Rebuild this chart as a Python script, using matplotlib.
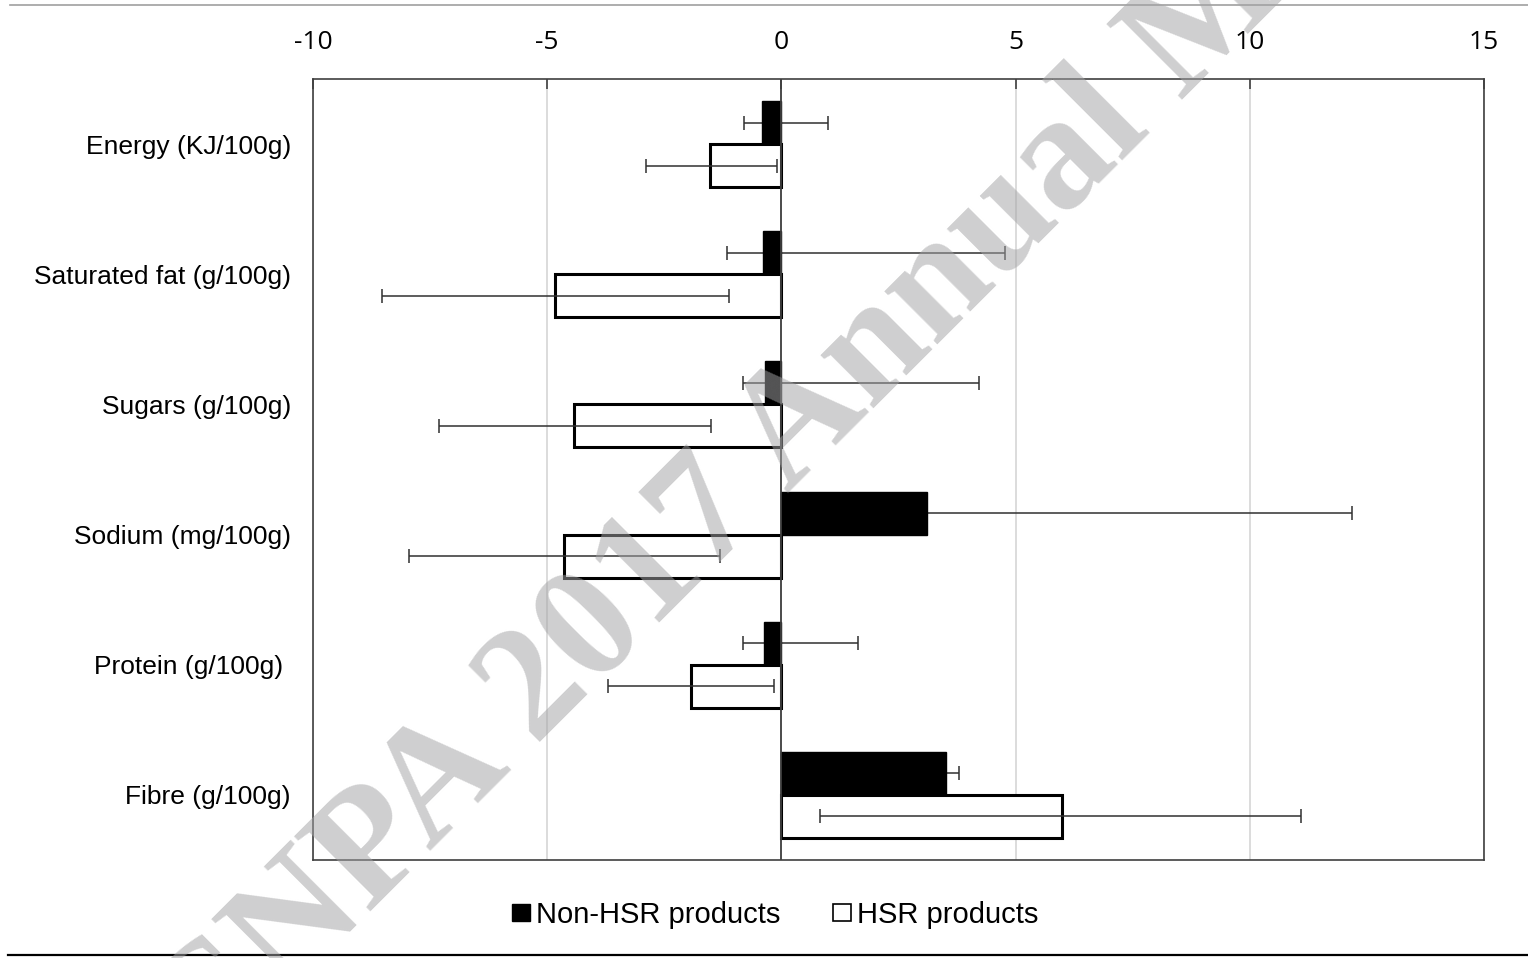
import matplotlib

matplotlib.use("Agg")

import matplotlib.pyplot as plt
import numpy as np
from matplotlib.lines import Line2D
from matplotlib.patches import Patch

# Change in nutrient content, mean with 95% CI
categories = [
    "Energy (KJ/100g)",
    "Saturated fat (g/100g)",
    "Sugars (g/100g)",
    "Sodium (mg/100g)",
    "Protein (g/100g) ",
    "Fibre (g/100g)",
]
non_hsr_mean = [-0.42, -0.39, -0.34, 3.10, -0.37, 3.51]
non_hsr_low = [-0.80, -1.16, -0.83, 1.50, -0.83, 3.20]
non_hsr_high = [0.99, 4.77, 4.22, 12.18, 1.63, 3.80]

hsr_mean = [-1.52, -4.83, -4.42, -4.64, -1.93, 5.98]
hsr_low = [-2.90, -8.53, -7.32, -7.96, -3.70, 0.82]
hsr_high = [-0.09, -1.11, -1.50, -1.32, -0.15, 11.10]

xticks = [-10, -5, 0, 5, 10, 15]

LABEL_FONT = ["Liberation Sans", "DejaVu Sans"]
TICK_FONT = ["Open Sans", "DejaVu Sans"]

fig = plt.figure(figsize=(15.28, 9.58), dpi=100)
ax = fig.add_axes([313 / 1528, 1 - 860 / 958, (1484 - 313) / 1528, (860 - 79) / 958])

y = np.arange(len(categories))
h = 0.33


def ci_err(mean, low, high):
    mean = np.asarray(mean)
    return np.vstack([mean - np.asarray(low), np.asarray(high) - mean])


ax.barh(y - h / 2, non_hsr_mean, height=h, color="black", edgecolor="black",
        linewidth=1, zorder=3)
ax.barh(y + h / 2, hsr_mean, height=h, color="white", edgecolor="black",
        linewidth=2.2, zorder=3)

err_kw = dict(fmt="none", ecolor="#303030", elinewidth=1.1, capsize=4.8, capthick=1.1)
# the solid bars hide the part of their interval that falls inside them
ax.errorbar(non_hsr_mean, y - h / 2, xerr=ci_err(non_hsr_mean, non_hsr_low, non_hsr_high),
            zorder=2, **err_kw)
ax.errorbar(hsr_mean, y + h / 2, xerr=ci_err(hsr_mean, hsr_low, hsr_high),
            zorder=4, **err_kw)

ax.axvline(0, color="#404040", linewidth=1.3, zorder=5)

ax.set_xlim(-10, 15)
ax.set_ylim(len(categories) - 0.5, -0.5)
ax.set_xticks(xticks)
ax.set_xticklabels([str(t) for t in xticks], family=TICK_FONT, fontsize=19)
ax.xaxis.tick_top()
ax.tick_params(axis="x", direction="in", length=7, width=1.2, color="#404040", pad=17.5)
ax.set_yticks(y)
ax.set_yticklabels(categories, family=LABEL_FONT, fontsize=19)
ax.tick_params(axis="y", length=0, pad=16)

ax.grid(axis="x", color="#d9d9d9", linewidth=1.3, zorder=0)
ax.set_axisbelow(True)
for s in ax.spines.values():
    s.set_color("#404040")
    s.set_linewidth(1.2)

handles = [
    Patch(facecolor="black", edgecolor="black", label="Non-HSR products"),
    Patch(facecolor="white", edgecolor="black", linewidth=1.2, label="HSR products"),
]
fig.legend(handles=handles, loc="center", bbox_to_anchor=(775 / 1528, 1 - 915 / 958),
           ncol=2, frameon=False, handlelength=0.62, handleheight=0.55,
           handletextpad=0.2, columnspacing=1.8,
           prop={"family": LABEL_FONT, "size": 21})

# page rules above and below the figure
fig.add_artist(Line2D([10 / 1528, 1], [1 - 5 / 958] * 2, color="#a0a0a0", linewidth=1.2))
fig.add_artist(Line2D([8 / 1528, 1], [1 - 955 / 958] * 2, color="black", linewidth=1.6))

# conference watermark
fig.text(203 / 1528, 1 - 1080 / 958, "CNPA 2017 Annual Meeting", rotation=45,
         rotation_mode="anchor", ha="left", va="baseline",
         family=["Liberation Serif", "DejaVu Serif"], fontweight="bold",
         fontsize=117, color="#a3a3a5", alpha=0.52, zorder=10)

fig.savefig("out.png", dpi=100)
